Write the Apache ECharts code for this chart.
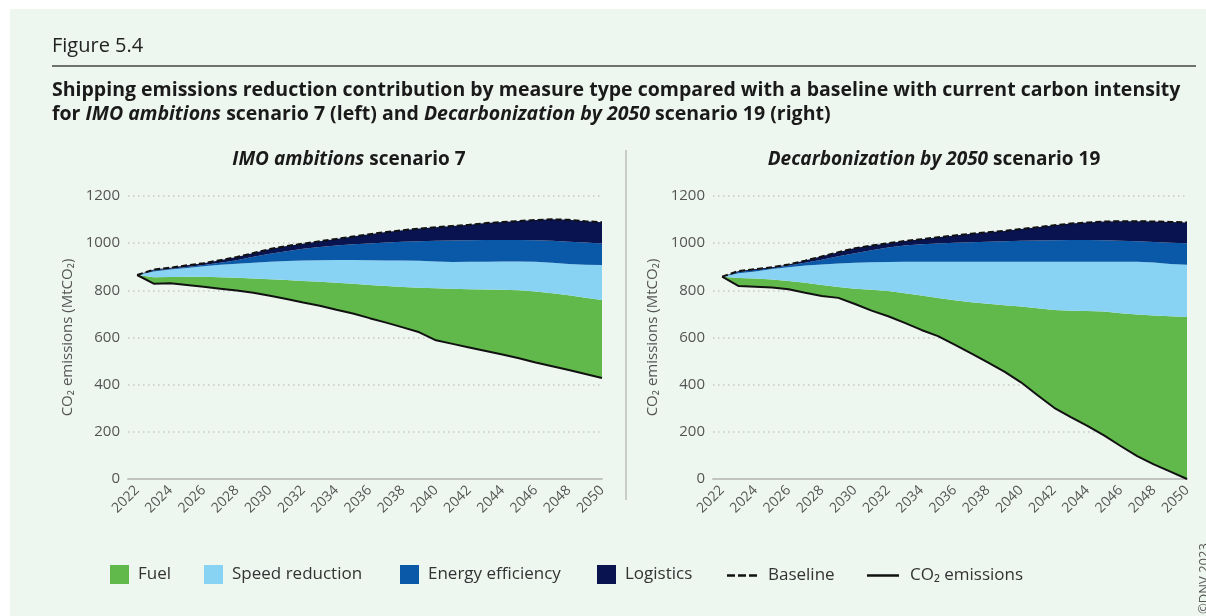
<!DOCTYPE html>
<html><head><meta charset="utf-8">
<script src="https://cdn.jsdelivr.net/npm/echarts@6/dist/echarts.min.js"></script>
<style>
html,body{margin:0;padding:0;background:#fff;overflow:hidden;}
#bg{position:absolute;left:10px;top:9px;width:1196px;height:607px;background:#eef6f0;}
#chart{position:absolute;left:0;top:0;width:1206px;height:616px;}
</style></head><body>
<div id="bg"></div><div id="chart"></div>
<script>
// ---- data ----
const years = [2022,2023,2024,2025,2026,2027,2028,2029,2030,2031,2032,2033,2034,2035,2036,2037,2038,2039,2040,2041,2042,2043,2044,2045,2046,2047,2048,2049,2050];
const yearTicks = [2022,2024,2026,2028,2030,2032,2034,2036,2038,2040,2042,2044,2046,2048,2050];

// Left: IMO ambitions scenario 7 (MtCO2)
const co2Left        = [865,828,830,823,815,807,799,790,777,763,748,735,718,702,682,663,643,622,588,573,558,543,528,512,494,478,462,445,428];
const fuelLeft       = [0,27,27,35,43,49,54,60,70,81,92,101,114,126,141,155,171,189,221,234,247,261,274,288,301,310,317,324,331];
const speedLeft      = [0,25,31,37,44,52,60,67,74,80,86,92,97,101,105,109,112,114,113,113,116,117,120,122,126,129,133,140,148];
const efficiencyLeft = [0,4,3,4,5,9,15,25,34,42,50,56,61,66,71,76,80,83,88,91,91,92,91,91,91,93,94,94,92];
const logisticsLeft  = [0,4,5,7,8,11,13,16,20,22,22,24,28,33,39,44,49,54,58,62,66,72,77,81,86,91,93,90,90];
const baselineLeft   = [865,888,896,906,915,928,941,958,975,988,998,1008,1018,1028,1038,1047,1055,1062,1068,1073,1078,1085,1090,1094,1098,1101,1099,1093,1089];

// Right: Decarbonization by 2050 scenario 19 (MtCO2)
const co2Right        = [858,818,815,812,805,790,776,768,742,714,690,662,632,606,570,533,495,455,410,355,302,262,225,185,140,97,62,31,0];
const fuelRight       = [0,34,35,34,35,42,47,46,65,88,107,126,146,162,188,217,248,282,321,369,415,451,487,525,563,600,631,659,687];
const speedRight      = [0,20,30,44,58,73,87,100,110,117,123,133,143,153,163,171,178,184,190,197,204,208,209,211,218,224,225,222,221];
const efficiencyRight = [0,6,6,4,7,12,20,30,40,51,62,69,74,78,81,83,85,87,89,90,91,92,92,91,89,87,87,90,92];
const logisticsRight  = [0,4,4,4,5,9,14,18,22,20,18,19,22,26,31,36,40,44,50,57,64,70,75,80,83,85,87,88,88];
const baselineRight   = [858,882,890,898,910,926,944,962,979,990,1000,1009,1017,1025,1033,1040,1046,1052,1060,1068,1076,1083,1088,1092,1093,1093,1092,1090,1088];

const yMin = 0, yMax = 1200, yStep = 200;
const names = {fuel:'Fuel', speed:'Speed reduction', eff:'Energy efficiency', logi:'Logistics', base:'Baseline', co2:'CO\u2082 emissions'};
const colors = {fuel:'#62b94b', speed:'#88d3f4', eff:'#0a58a8', logi:'#08134f', line:'#111111'};

// ---- chart ----
const FONT = 'Open Sans';
// value first, year second, so the stack runs on the value dimension
const pairs = arr => years.map((y,i)=>[arr[i], y]);
const enc = {x:1, y:0};

function axesFor(idx){
  const x = {
    gridIndex: idx, type:'value', min: 2021.45, max: 2050,
    axisLine:{show:true, onZero:false, lineStyle:{color:'#c2c4c2', width:2}},
    axisTick:{show:false},
    splitLine:{show:false},
    axisLabel:{customValues: yearTicks, rotate:45, margin:9, color:'#555', fontSize:14, fontFamily:FONT,
      formatter: v => String(v)}
  };
  const y = {
    gridIndex: idx, type:'value', min:yMin, max:yMax, interval:yStep,
    name:'CO\u2082 emissions (MtCO\u2082)', nameLocation:'middle', nameGap:53,
    nameTextStyle:{color:'#555', fontSize:15, fontFamily:FONT},
    axisLine:{show:false}, axisTick:{show:false},
    axisLabel:{color:'#555', fontSize:15, fontFamily:FONT, margin:8, formatter: v => String(v)},
    splitLine:{show:true, lineStyle:{color:'#c6c9c6', width:1.5, type:[1.5,3.5]}}
  };
  return [x,y];
}

function seriesFor(idx, co2, fuel, speed, eff, logi, base){
  const st = 'stack' + idx;
  const area = (name, data, color) => ({
    name, type:'line', xAxisIndex:idx, yAxisIndex:idx, stack:st, data:pairs(data), encode:enc,
    symbol:'none', lineStyle:{width:0, color}, itemStyle:{color},
    areaStyle:{color, opacity:1}, z:2
  });
  return [
    {name:names.co2, type:'line', xAxisIndex:idx, yAxisIndex:idx, stack:st, data:pairs(co2), encode:enc,
     symbol:'none', lineStyle:{color:colors.line, width:2}, itemStyle:{color:colors.line}, z:5},
    area(names.fuel, fuel, colors.fuel),
    area(names.speed, speed, colors.speed),
    area(names.eff, eff, colors.eff),
    area(names.logi, logi, colors.logi),
    {name:names.base, type:'line', xAxisIndex:idx, yAxisIndex:idx, data:pairs(base), encode:enc,
     symbol:'none', lineStyle:{color:colors.line, width:2, type:[6,3]}, itemStyle:{color:colors.line}, z:6}
  ];
}

const [xL,yL] = axesFor(0), [xR,yR] = axesFor(1);

const legendText = {color:'#333', fontSize:17, fontFamily:FONT};
const sq = (left, name) => ({left, top:565, padding:0, itemWidth:19, itemHeight:19, selectedMode:false,
  textStyle:Object.assign({padding:[0,0,0,4]}, legendText), data:[{name, icon:'rect'}]});
const ln = (left, name, icon, w) => ({left, top:567, padding:0, itemWidth:w, itemHeight:2.5, selectedMode:false,
  textStyle:Object.assign({padding:[0,0,0,6]}, legendText), data:[{name, icon}]});
const legends = [
  sq(110, names.fuel), sq(204, names.speed), sq(400, names.eff), sq(597, names.logi),
  ln(727, names.base, 'path://M0,0h8v2.5h-8z M11,0h8v2.5h-8z M22,0h8v2.5h-8z', 30),
  ln(867, names.co2, 'rect', 32)
];

const titleTxt = (x,y,text,rich,extra) => ({type:'text', x, y, silent:true,
  style:Object.assign({text, rich, verticalAlign:'middle'}, extra||{})});

const bold = {fontWeight:'bold', fontSize:19.5, fontFamily:FONT, fill:'#1a1a1a'};
const boldIt = Object.assign({}, bold, {fontStyle:'italic'});
const sub = {fontWeight:'bold', fontSize:19, fontFamily:FONT, fill:'#1a1a1a'};
const subIt = Object.assign({}, sub, {fontStyle:'italic'});

const chart = echarts.init(document.getElementById('chart'), null, {renderer:'canvas'});
chart.setOption({
  animation:false,
  backgroundColor:'transparent',
  grid:[
    {left:128, top:196, width:474, height:283},
    {left:713, top:196, width:474, height:283}
  ],
  xAxis:[xL, xR],
  yAxis:[yL, yR],
  legend: legends,
  series:[].concat(
    seriesFor(0, co2Left, fuelLeft, speedLeft, efficiencyLeft, logisticsLeft, baselineLeft),
    seriesFor(1, co2Right, fuelRight, speedRight, efficiencyRight, logisticsRight, baselineRight)
  ),
  graphic:[
    titleTxt(52, 46, 'Figure 5.4', null, {fontSize:20, fontFamily:FONT, fill:'#222'}),
    {type:'line', silent:true, shape:{x1:52, y1:66, x2:1196, y2:66}, style:{stroke:'#444', lineWidth:1.5}},
    titleTxt(52, 90, '{b|Shipping emissions reduction contribution by measure type compared with a baseline with current carbon intensity}', {b:bold}),
    titleTxt(52, 114, '{b|for }{i|IMO ambitions}{b| scenario 7 (left) and }{i|Decarbonization by 2050}{b| scenario 19 (right)}', {b:bold, i:boldIt}),
    titleTxt(349, 160, '{i|IMO ambitions}{b| scenario 7}', {b:sub, i:subIt}, {align:'center'}),
    titleTxt(934, 160, '{i|Decarbonization by 2050}{b| scenario 19}', {b:sub, i:subIt}, {align:'center'}),
    {type:'line', silent:true, shape:{x1:626, y1:150, x2:626, y2:500}, style:{stroke:'#bdbdbd', lineWidth:1.5}},
    {type:'text', silent:true, x:1204, y:614, rotation:Math.PI/2,
      style:{text:'\u00a9DNV 2023', fontSize:13, fontFamily:FONT, fill:'#555', align:'left', verticalAlign:'middle'}}
  ]
});
</script>
</body></html>
